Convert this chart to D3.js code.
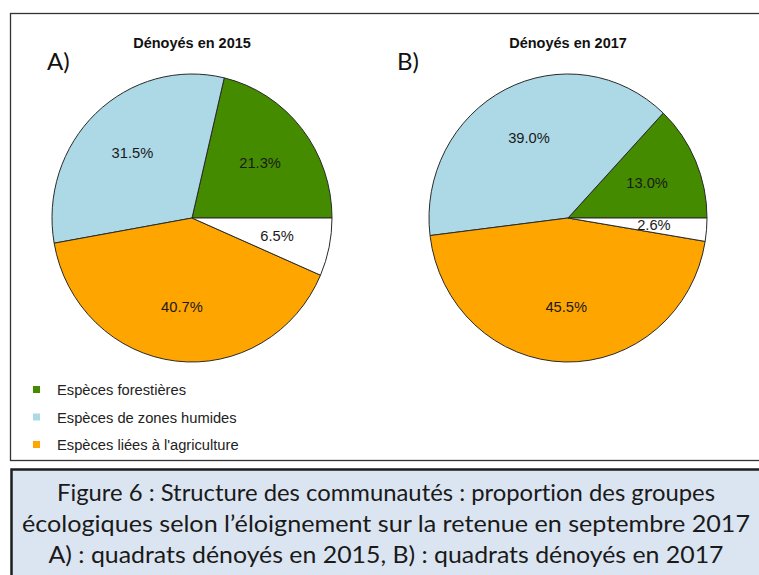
<!DOCTYPE html>
<html>
<head>
<meta charset="utf-8">
<script src="https://cdn.jsdelivr.net/npm/d3@7"></script>
<style>
  body { margin: 0; background: #fff; }
  svg { display: block; }
  text { font-variant-ligatures: none; font-feature-settings: "liga" 0; }
</style>
</head>
<body>
<svg id="mainsvg" width="759" height="575"></svg>
<script>
// groupes écologiques
var groups = ["Espèces forestières", "Espèces de zones humides", "Espèces liées à l'agriculture", "Autres"];
var groupColors = ["#458b00", "#add8e6", "#ffa500", "#ffffff"];
var legendGroups = groups.slice(0, 3);

var titles = ["Dénoyés en 2015", "Dénoyés en 2017"];
var panelTags = ["A)", "B)"];
var values2015 = [21.3, 31.5, 40.7, 6.5];
var values2017 = [13.0, 39.0, 45.5, 2.6];

var captionLines = [
  "Figure 6 : Structure des communautés : proportion des groupes",
  "écologiques selon l’éloignement sur la retenue en septembre 2017",
  "A) : quadrats dénoyés en 2015, B) : quadrats dénoyés en 2017"
];

var svg = d3.select("#mainsvg");

// cadre du graphique
svg.append("rect")
  .attr("x", 10.5).attr("y", 13.5)
  .attr("width", 760).attr("height", 447)
  .attr("fill", "#fff")
  .attr("stroke", "#333").attr("stroke-width", 1.3);

var color = d3.scaleOrdinal().domain(groups).range(groupColors);

// R dessine dans le sens anti-horaire à partir de 3 h
var pie = d3.pie()
  .sort(null)
  .startAngle(Math.PI / 2)
  .endAngle(Math.PI / 2 - 2 * Math.PI);

var panels = [
  { cx: 192, cy: 218, rx: 140, ry: 144, tagX: 47, titleX: 192, values: values2015 },
  { cx: 568, cy: 218, rx: 139, ry: 144, tagX: 397, titleX: 568, values: values2017 }
];

panels.forEach(function (p, i) {
  var data = groups.map(function (g, k) { return { group: g, value: p.values[k] }; });
  var arcs = pie.value(function (d) { return d.value; })(data);
  var arc = d3.arc().innerRadius(0).outerRadius(p.ry);

  var g = svg.append("g")
    .attr("transform", "translate(" + p.cx + "," + p.cy + ") scale(" + (p.rx / p.ry) + ",1)");

  g.selectAll("path")
    .data(arcs)
    .enter()
    .append("path")
    .attr("d", arc)
    .attr("fill", function (d) { return color(d.data.group); })
    .attr("stroke", "#2a2a2a")
    .attr("stroke-width", 1)
    .attr("vector-effect", "non-scaling-stroke");

  // étiquettes
  svg.append("g")
    .selectAll("text")
    .data(arcs)
    .enter()
    .append("text")
    .attr("x", function (d) {
      var a = (d.startAngle + d.endAngle) / 2;
      return p.cx + 0.62 * p.rx * Math.sin(a);
    })
    .attr("y", function (d) {
      var a = (d.startAngle + d.endAngle) / 2;
      return p.cy - 0.62 * p.ry * Math.cos(a);
    })
    .attr("text-anchor", "middle")
    .attr("dominant-baseline", "central")
    .attr("font-family", "'Liberation Sans', Arial, sans-serif")
    .attr("font-size", "14.7px")
    .attr("fill", "#1a1a1a")
    .text(function (d) { return d.data.value.toFixed(1) + "%"; });

  svg.append("text")
    .attr("x", p.titleX).attr("y", 48)
    .attr("text-anchor", "middle")
    .attr("font-family", "'Liberation Sans', Arial, sans-serif")
    .attr("font-weight", "bold")
    .attr("font-size", "14.5px")
    .attr("fill", "#111")
    .text(titles[i]);

  svg.append("text")
    .attr("x", p.tagX).attr("y", 70)
    .attr("font-family", "Lato, 'Open Sans', sans-serif")
    .attr("font-size", "24px")
    .attr("fill", "#111")
    .text(panelTags[i]);
});

// légende
var legend = svg.append("g").attr("class", "legend");
var ly = d3.scalePoint().domain(legendGroups).range([389.5, 444.5]);
legend.selectAll("rect")
  .data(legendGroups)
  .enter()
  .append("rect")
  .attr("x", 33).attr("y", function (d) { return ly(d) - 3.5; })
  .attr("width", 7).attr("height", 7)
  .attr("fill", function (d) { return color(d); });
legend.selectAll("text")
  .data(legendGroups)
  .enter()
  .append("text")
  .attr("x", 57).attr("y", function (d) { return ly(d) + 5.5; })
  .attr("font-family", "'Liberation Sans', Arial, sans-serif")
  .attr("font-size", "14.7px")
  .attr("fill", "#222")
  .text(function (d) { return d; });

// légende de la figure
svg.append("rect")
  .attr("x", 11.5).attr("y", 469.5)
  .attr("width", 760).attr("height", 120)
  .attr("fill", "#dbe5f1")
  .attr("stroke", "#1e1e1e").attr("stroke-width", 2.5);

var captionWidths = [658, 728, 675];
svg.append("g")
  .selectAll("text")
  .data(captionLines)
  .enter()
  .append("text")
  .attr("x", 386)
  .attr("y", function (d, i) { return 501 + i * 31; })
  .attr("text-anchor", "middle")
  .attr("font-family", "Lato, 'Open Sans', sans-serif")
  .attr("font-size", "23px")
  .attr("fill", "#1a1a1a")
  .attr("textLength", function (d, i) { return captionWidths[i]; })
  .attr("lengthAdjust", "spacingAndGlyphs")
  .text(function (d) { return d; });
</script>
</body>
</html>
